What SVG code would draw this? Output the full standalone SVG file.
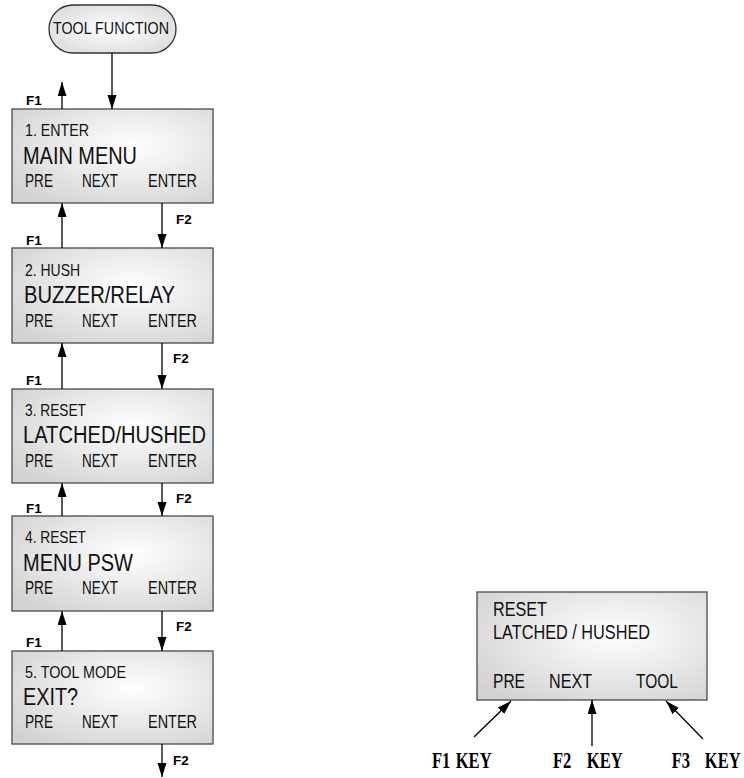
<svg xmlns="http://www.w3.org/2000/svg" width="744" height="778" viewBox="0 0 744 778">
<defs>
<radialGradient id="lcd" cx="0.6" cy="0.4" r="0.75">
<stop offset="0" stop-color="#ffffff"/>
<stop offset="1" stop-color="#d2d2d2"/>
</radialGradient>
<radialGradient id="pill" cx="0.5" cy="0.5" r="0.6">
<stop offset="0" stop-color="#ffffff"/>
<stop offset="1" stop-color="#dcdcdc"/>
</radialGradient>
<marker id="ah" markerUnits="userSpaceOnUse" markerWidth="15" markerHeight="10" refX="14" refY="4.5" orient="auto">
<path d="M0,0 L14,4.5 L0,9 z" fill="#000"/>
</marker>
</defs>
<style>
.box{fill:url(#lcd);stroke:#555;stroke-width:1.4}
.t{font-family:'Liberation Sans Narrow','Liberation Sans',Arial,sans-serif;fill:#111}
.s1{font-size:16.5px}
.s2{font-size:24.5px}
.s3{font-size:18px}
.s4{font-size:20px}
.k{font-family:'Liberation Sans',Arial,sans-serif;font-weight:bold;font-size:13.5px;fill:#000}
.key{font-family:'Liberation Serif','Times New Roman',serif;font-weight:bold;font-size:23px;fill:#000}
.c line{stroke:#000;stroke-width:1.3;marker-end:url(#ah)}
</style>

<g id="start">
<rect x="49" y="5" width="127" height="48" rx="24" ry="24" fill="url(#pill)" stroke="#333" stroke-width="1.3"/>
<text class="t" x="53" y="34" font-size="17" textLength="116" lengthAdjust="spacingAndGlyphs">TOOL FUNCTION</text>
</g>

<g id="node1">
<rect class="box" x="12" y="109" width="201" height="94"/>
<text class="t s1" x="25" y="136" textLength="64" lengthAdjust="spacingAndGlyphs">1. ENTER</text>
<text class="t s2" x="23" y="164" textLength="114" lengthAdjust="spacingAndGlyphs">MAIN MENU</text>
<text class="t s3" x="25" y="187" textLength="28" lengthAdjust="spacingAndGlyphs">PRE</text>
<text class="t s3" x="82" y="187" textLength="36" lengthAdjust="spacingAndGlyphs">NEXT</text>
<text class="t s3" x="148" y="187" textLength="49" lengthAdjust="spacingAndGlyphs">ENTER</text>
</g>

<g id="node2">
<rect class="box" x="12" y="248" width="201" height="95"/>
<text class="t s1" x="25" y="276" textLength="55" lengthAdjust="spacingAndGlyphs">2. HUSH</text>
<text class="t s2" x="24" y="303" textLength="151" lengthAdjust="spacingAndGlyphs">BUZZER/RELAY</text>
<text class="t s3" x="25" y="327" textLength="28" lengthAdjust="spacingAndGlyphs">PRE</text>
<text class="t s3" x="82" y="327" textLength="36" lengthAdjust="spacingAndGlyphs">NEXT</text>
<text class="t s3" x="148" y="327" textLength="49" lengthAdjust="spacingAndGlyphs">ENTER</text>
</g>

<g id="node3">
<rect class="box" x="12" y="389" width="201" height="94"/>
<text class="t s1" x="25" y="416" textLength="61" lengthAdjust="spacingAndGlyphs">3. RESET</text>
<text class="t s2" x="23" y="443" textLength="183" lengthAdjust="spacingAndGlyphs">LATCHED/HUSHED</text>
<text class="t s3" x="25" y="467" textLength="28" lengthAdjust="spacingAndGlyphs">PRE</text>
<text class="t s3" x="82" y="467" textLength="36" lengthAdjust="spacingAndGlyphs">NEXT</text>
<text class="t s3" x="148" y="467" textLength="49" lengthAdjust="spacingAndGlyphs">ENTER</text>
</g>

<g id="node4">
<rect class="box" x="12" y="516" width="201" height="95"/>
<text class="t s1" x="25" y="543" textLength="61" lengthAdjust="spacingAndGlyphs">4. RESET</text>
<text class="t s2" x="23" y="571" textLength="110" lengthAdjust="spacingAndGlyphs">MENU PSW</text>
<text class="t s3" x="25" y="594" textLength="28" lengthAdjust="spacingAndGlyphs">PRE</text>
<text class="t s3" x="82" y="594" textLength="36" lengthAdjust="spacingAndGlyphs">NEXT</text>
<text class="t s3" x="148" y="594" textLength="49" lengthAdjust="spacingAndGlyphs">ENTER</text>
</g>

<g id="node5">
<rect class="box" x="12" y="651" width="201" height="93"/>
<text class="t s1" x="25" y="678" textLength="101" lengthAdjust="spacingAndGlyphs">5. TOOL MODE</text>
<text class="t s2" x="23" y="705" textLength="55" lengthAdjust="spacingAndGlyphs">EXIT?</text>
<text class="t s3" x="25" y="728" textLength="28" lengthAdjust="spacingAndGlyphs">PRE</text>
<text class="t s3" x="82" y="728" textLength="36" lengthAdjust="spacingAndGlyphs">NEXT</text>
<text class="t s3" x="148" y="728" textLength="49" lengthAdjust="spacingAndGlyphs">ENTER</text>
</g>

<g id="display">
<rect class="box" x="477" y="592" width="230" height="108"/>
<text class="t s4" x="493" y="616" textLength="54" lengthAdjust="spacingAndGlyphs">RESET</text>
<text class="t s4" x="493" y="639" textLength="157" lengthAdjust="spacingAndGlyphs">LATCHED / HUSHED</text>
<text class="t s4" x="493" y="688" textLength="32" lengthAdjust="spacingAndGlyphs">PRE</text>
<text class="t s4" x="549" y="688" textLength="43" lengthAdjust="spacingAndGlyphs">NEXT</text>
<text class="t s4" x="636" y="688" textLength="42" lengthAdjust="spacingAndGlyphs">TOOL</text>
</g>

<g id="connectors" class="c">
<line x1="112" y1="53" x2="112" y2="109"/>
<line x1="62" y1="109" x2="62" y2="82"/>
<line x1="62" y1="248" x2="62" y2="203"/>
<line x1="162" y1="203" x2="162" y2="248"/>
<line x1="62" y1="389" x2="62" y2="343"/>
<line x1="162" y1="343" x2="162" y2="389"/>
<line x1="62" y1="516" x2="62" y2="483"/>
<line x1="162" y1="483" x2="162" y2="516"/>
<line x1="62" y1="651" x2="62" y2="611"/>
<line x1="162" y1="611" x2="162" y2="651"/>
<line x1="162" y1="744" x2="162" y2="777"/>
<line x1="474" y1="737" x2="511" y2="701"/>
<line x1="592" y1="746" x2="592" y2="700"/>
<line x1="703" y1="739" x2="666" y2="701"/>
</g>

<g id="labels">
<text class="k" x="26" y="105">F1</text>
<text class="k" x="26" y="245">F1</text>
<text class="k" x="26" y="385">F1</text>
<text class="k" x="26" y="513">F1</text>
<text class="k" x="26" y="647">F1</text>
<text class="k" x="176" y="224">F2</text>
<text class="k" x="173" y="363">F2</text>
<text class="k" x="176" y="503">F2</text>
<text class="k" x="176" y="631">F2</text>
<text class="k" x="173" y="765">F2</text>
<g transform="scale(0.72,1)">
<text class="key" y="768"><tspan x="600">F1</tspan><tspan x="633">KEY</tspan></text>
<text class="key" y="768"><tspan x="768">F2</tspan><tspan x="815">KEY</tspan></text>
<text class="key" y="768"><tspan x="933">F3</tspan><tspan x="979">KEY</tspan></text>
</g>
</g>
</svg>
